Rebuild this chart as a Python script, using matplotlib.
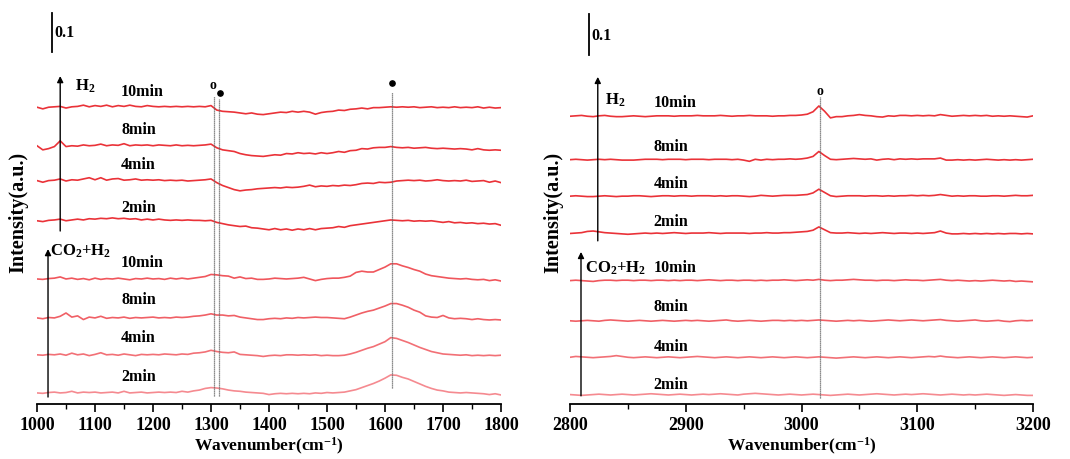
import numpy as np
import matplotlib
matplotlib.use("Agg")
from matplotlib import pyplot as plt

plt.rcParams['font.family'] = ['Liberation Serif', 'DejaVu Serif']
plt.rcParams['font.weight'] = 'bold'
plt.rcParams['mathtext.fontset'] = 'custom'
plt.rcParams['mathtext.rm'] = 'Liberation Serif:bold'
plt.rcParams['mathtext.bf'] = 'Liberation Serif:bold'
plt.rcParams['mathtext.it'] = 'Liberation Serif:bold'
plt.rcParams['mathtext.default'] = 'rm'

# ---- data: difference spectra, values in mA (1e-3 absorbance) ----
wn_low = np.arange(1000, 1801, 10)
wn_high = np.arange(2800, 3201, 5)
times = ['10min', '8min', '4min', '2min']

# 1000-1800 cm-1, H2 treatment
h2_low = {
    '10min': [0, -4, 0, 1, 2, -2, 1, 2, 5, 1,
              4, 2, 5, 1, 4, 2, 5, 2, 1, 4,
              2, 1, 2, 1, 2, 1, 2, 1, 2, 1,
              4, -7, -10, -11, -12, -14, -16, -14, -17, -18,
              -16, -14, -12, -13, -10, -12, -10, -12, -17, -13,
              -11, -10, -7, -8, -5, -4, -2, -4, -1, -1,
              0, 1, 0, 1, 0, 1, -1, 0, 1, -1,
              0, -1, 1, -1, 0, -1, 1, -2, 0, -2,
              -1],
    '8min': [0, -10, -7, -2, 12, -2, 0, -1, 2, 0,
             1, 4, 0, 2, 1, 5, 0, 2, 1, 2,
             0, 2, 1, 0, 2, 0, 1, 0, 1, 2,
             4, -5, -10, -12, -14, -19, -22, -24, -25, -26,
             -24, -22, -23, -19, -20, -17, -19, -18, -20, -17,
             -19, -17, -14, -16, -12, -11, -7, -8, -5, -4,
             -4, -2, -4, -5, -4, -6, -5, -4, -6, -7,
             -6, -7, -8, -7, -8, -10, -7, -10, -11, -10,
             -11],
    '4min': [0, -4, 0, 1, 4, -1, 2, 1, 4, 7,
             2, 7, 1, 4, 5, 1, 2, 4, 1, 2,
             1, 2, 0, 1, 0, 1, -1, 0, 1, 2,
             4, -5, -12, -17, -22, -25, -23, -22, -20, -19,
             -18, -17, -18, -16, -17, -16, -14, -11, -15, -13,
             -14, -12, -13, -11, -12, -10, -7, -6, -7, -4,
             -5, -4, -1, 0, 1, 0, 1, -1, 0, 2,
             0, -1, 0, -1, 1, -2, -1, 0, -4, -1,
             -5],
    '2min': [0, -2, 1, 2, 4, 0, 2, 4, 2, 5,
             4, 6, 5, 7, 5, 6, 4, 5, 2, 4,
             2, 4, 2, 1, 2, 1, 2, 1, 1, 0,
             1, -4, -7, -10, -12, -14, -13, -17, -18, -20,
             -22, -19, -22, -20, -23, -20, -22, -19, -22, -19,
             -18, -17, -14, -16, -12, -10, -8, -6, -4, -2,
             0, 2, 1, 0, 1, -1, 0, -1, 0, -2,
             -4, -2, -5, -4, -6, -5, -7, -6, -8, -7,
             -11],
}

# 1000-1800 cm-1, CO2+H2 treatment
co2_low = {
    '10min': [0, -1, 1, 2, 5, 0, 2, -1, 1, -2,
              2, -1, 1, 0, 2, 0, -2, 1, 0, 2,
              0, 1, -1, 2, 0, 2, 0, 2, 4, 6,
              11, 10, 8, 7, 2, 5, 1, 2, -1, -1,
              0, 2, 1, 0, 1, 2, 4, 0, -4, -1,
              1, 2, 2, 4, 7, 16, 19, 17, 17, 23,
              29, 37, 37, 32, 28, 23, 19, 12, 8, 6,
              4, 2, 1, 0, 1, -1, -2, -1, -4, -2,
              -5],
    '8min': [0, -2, 1, 0, 4, 12, 2, 5, -4, 2,
             0, 4, -1, 1, 0, 2, -1, 1, 0, 1,
             2, 0, 1, 0, 2, 1, 2, 4, 5, 7,
             10, 7, 7, 5, 6, 2, 0, -2, -4, -4,
             -2, -1, -2, 0, -1, 1, 0, 1, 2, 1,
             1, 0, -1, -2, 2, 7, 12, 16, 19, 24,
             29, 35, 35, 31, 26, 19, 14, 5, 2, 1,
             6, 0, -2, -1, -2, -4, -2, -4, -5, -4,
             -5],
    '4min': [0, -1, 1, 0, 2, -1, 4, 0, 2, -2,
             1, 5, 0, 1, -1, 2, 0, -2, 1, 0,
             1, 0, 2, 1, 0, 2, 1, 4, 5, 7,
             11, 8, 6, 5, 7, 1, 0, -1, -2, -4,
             -2, -1, -2, 0, 0, -1, 0, -1, 0, -2,
             -1, -2, -2, -1, 2, 6, 11, 16, 20, 26,
             32, 42, 40, 35, 30, 24, 18, 13, 8, 5,
             2, 1, 0, -1, 0, -2, -1, -2, -1, -2,
             -1],
    '2min': [0, -1, 1, 2, 0, 1, 4, 0, 2, 1,
             2, 0, 1, 2, 0, 4, 0, 1, 2, 0,
             1, 2, 1, 2, 1, 4, 2, 5, 7, 11,
             13, 12, 10, 7, 5, 4, 2, 1, 0, -1,
             -4, -2, -1, -2, -1, -2, -1, -2, 0, -1,
             1, 0, 1, 2, 5, 8, 13, 18, 23, 29,
             36, 44, 43, 38, 34, 28, 22, 16, 11, 7,
             5, 2, 1, 0, 1, 0, -1, -2, -4, -2,
             -5],
}

# 2800-3200 cm-1, H2 treatment
h2_high = {
    '10min': [0, 1, 2, 0, -1, 1, 2, 0, -1, -1,
              0, 1, 0, -1, 0, 1, 1, 1, 0, 1,
              1, 1, 2, 1, 1, 1, 2, 1, 0, 1,
              1, 2, 1, 1, 1, 0, 1, 1, 2, 2,
              3, 5, 11, 25, 12, -4, -1, -1, 1, 2,
              4, 2, 1, -1, -2, 1, 0, 2, 2, 1,
              2, 1, 2, 1, 4, 2, 0, 1, 2, 1,
              2, 1, 2, 0, 1, 0, 1, 0, -1, -2,
              1],
    '8min': [0, 1, 0, -1, 0, 1, 0, 1, 0, -1,
             -1, -1, 0, 1, 1, 1, 0, 1, 1, 1,
             0, 1, 1, 1, 0, 1, 1, 1, 0, 1,
             -1, -4, 1, -1, 1, 0, 1, 1, 2, 1,
             2, 4, 8, 20, 10, 1, 0, 1, 2, 3,
             2, 1, 2, -1, 1, 2, 0, 2, 1, 2,
             1, 2, 2, 2, 4, -1, -1, 0, -1, 0,
             -1, 0, 1, 0, -1, 0, -1, 0, -1, 0,
             1],
    '4min': [0, 1, 0, -1, -1, 0, 1, 0, -1, 0,
             0, 1, 1, 0, -1, 0, 1, 1, 0, 1,
             1, 0, 1, 1, 1, 0, 1, 0, 1, 1,
             0, -1, 0, 2, 1, 0, 1, 2, 2, 2,
             3, 4, 8, 17, 9, 1, -1, 0, 1, 1,
             1, 0, 1, 1, 0, 1, 0, 1, 1, 2,
             1, 2, 1, 2, 4, 2, 0, 1, 0, 1,
             1, 0, 0, 1, 1, 0, 1, 2, 1, 1,
             2],
    '2min': [0, 1, 2, 5, 6, 4, 2, 1, 0, -1,
             -2, -1, 0, 1, 0, 1, 0, 1, 2, 1,
             0, 1, 1, 1, 2, 1, 0, 1, 1, 1,
             1, 0, 1, 1, 2, 1, 1, 2, 2, 3,
             4, 5, 8, 16, 9, 2, 1, 1, 2, 1,
             0, 1, 0, 1, 2, 1, 0, 1, 1, 0,
             1, 0, 1, 2, 6, 1, -1, -1, 0, -1,
             0, -1, 0, -1, 0, -1, 0, 0, -1, 0,
             -1],
}

# 2800-3200 cm-1, CO2+H2 treatment
co2_high = {
    '10min': [0, 1, 0, -1, -2, 0, 1, 1, 0, 1,
              1, 0, 1, 1, 0, 1, 1, 0, 1, 0,
              1, 1, 0, 1, 2, 1, 0, 1, 1, 0,
              1, 1, 0, 1, 0, 1, 1, 2, 1, 0,
              1, 2, 1, 3, 1, 0, 1, 1, 2, 3,
              2, 1, 1, 0, 1, 1, 0, 1, 2, 1,
              1, 0, 1, 2, 3, 1, 0, 1, 0, -1,
              0, -1, 0, 1, 0, -1, 0, -2, -1, -2,
              -3],
    '8min': [0, -1, 0, 1, 0, -1, 1, 2, 1, 0,
             -1, 0, 1, 0, -1, 0, 1, 0, -1, 0,
             1, 0, 1, 0, -1, 0, 1, 2, 0, -1,
             0, 1, 0, -1, 0, 1, 1, 0, 1, 0,
             1, 0, 1, 2, 1, 0, -1, 0, 1, 0,
             1, 0, -1, 0, 1, 2, 1, 0, 1, 2,
             1, 0, 1, 2, 3, 1, 0, -1, 0, 1,
             2, 0, -1, 0, 1, -1, -2, 0, 1, 0,
             1],
    '4min': [0, 2, 1, 0, -1, 0, 1, 2, 4, 2,
             0, -1, 0, 1, 0, -1, 0, 1, 0, -1,
             0, 1, 2, 1, 0, -1, 0, 1, 0, -1,
             0, 1, 0, -1, 0, 1, 0, -1, 0, 1,
             0, -1, 0, 1, 0, -1, -2, -1, 0, 1,
             0, -1, 0, 1, 0, -1, 0, 1, 0, -1,
             0, 1, 2, 1, 3, 1, 0, -1, 0, 1,
             0, -1, 0, 1, 0, -1, 0, 1, 0, -1,
             0],
    '2min': [0, -1, -2, -1, 0, 1, 0, -1, 0, 1,
             0, -1, 0, 1, 2, 1, 0, -1, 0, 1,
             0, -1, 0, 1, 0, 1, 2, 1, 0, -1,
             1, 2, 3, 2, 1, 0, -1, 0, 1, 0,
             -1, 0, 1, 0, -1, -2, -1, 0, 1, 0,
             -1, 0, 1, 2, 1, 0, -1, 0, 1, 0,
             1, 2, 1, 0, -1, 0, 1, 0, -1, 0,
             -1, 0, 1, 0, -1, -2, -1, 0, -1, -2,
             -2],
}

bands_low = [1305, 1313, 1612]
bands_high = [3016]

# ---- layout (offsets of the stacked traces, in absorbance) ----
offs_low_h2 = [0.724, 0.630, 0.545, 0.447]
offs_low_co2 = [0.305, 0.210, 0.120, 0.027]
offs_high_h2 = [0.702, 0.596, 0.507, 0.416]
offs_high_co2 = [0.301, 0.203, 0.114, 0.023]

lab_low_h2 = [0.763, 0.671, 0.585, 0.480]
lab_low_co2 = [0.346, 0.256, 0.163, 0.068]
lab_high_h2 = [0.737, 0.629, 0.539, 0.447]
lab_high_co2 = [0.334, 0.239, 0.141, 0.049]

h2_color = '#ea3238'
co2_colors = ['#f0565c', '#f06066', '#f27076', '#f58a90']


def setup_axis(ax, lo, hi):
    ax.set_xlim(lo, hi)
    ax.set_ylim(0, 0.988)
    for s in ['left', 'top', 'right']:
        ax.spines[s].set_visible(False)
    ax.spines['bottom'].set_linewidth(1.3)
    ax.set_yticks([])
    ax.xaxis.set_major_locator(plt.MultipleLocator(100))
    ax.xaxis.set_minor_locator(plt.MultipleLocator(50))
    ax.tick_params(axis='x', which='major', direction='out', length=6, width=1.2, labelsize=13, pad=3)
    ax.tick_params(axis='x', which='minor', direction='out', length=3.5, width=1.0)
    for lab in ax.get_xticklabels():
        lab.set_fontweight('bold')
    ax.set_xlabel('Wavenumber(cm$^{-1}$)', fontsize=12.5, fontweight='bold', labelpad=1)


def arrow(ax, x, y0, y1):
    ax.annotate('', xy=(x, y1), xytext=(x, y0),
                arrowprops=dict(arrowstyle='-|>', color='black', lw=1.0, mutation_scale=9,
                                shrinkA=0, shrinkB=0))


def scale_bar(ax, x, y0, y1):
    ax.plot([x, x], [y0, y1], color='black', lw=1.3, clip_on=False)
    ax.text(x + (ax.get_xlim()[1] - ax.get_xlim()[0]) * 0.007, (y0 + y1) / 2, '0.1',
            fontsize=11.5, fontweight='bold', va='center', ha='left')


fig = plt.figure(figsize=(10.7, 4.6), dpi=100)
ax1 = fig.add_axes([37 / 1070, 55 / 460, 464 / 1070, 405 / 460])
ax2 = fig.add_axes([570 / 1070, 55 / 460, 463 / 1070, 405 / 460])
for ax in (ax1, ax2):
    ax.patch.set_alpha(0)

# ---- left panel ----
setup_axis(ax1, 1000, 1800)
for i, t in enumerate(times):
    ax1.plot(wn_low, np.array(h2_low[t]) / 1000 + offs_low_h2[i], color=h2_color, lw=1.2)
    ax1.plot(wn_low, np.array(co2_low[t]) / 1000 + offs_low_co2[i], color=co2_colors[i], lw=1.2)
    ax1.text(1145, lab_low_h2[i], t, fontsize=11.5, fontweight='bold', va='center')
    ax1.text(1145, lab_low_co2[i], t, fontsize=11.5, fontweight='bold', va='center')

ax1.plot([bands_low[0]] * 2, [0.02, 0.751], color='#666666', lw=0.9, ls=(0, (1, 0.6)))
ax1.plot([bands_low[1]] * 2, [0.02, 0.745], color='#666666', lw=0.9, ls=(0, (1, 0.6)))
ax1.plot([bands_low[2]] * 2, [0.039, 0.761], color='#666666', lw=0.9, ls=(0, (1, 0.6)))
ax1.text(bands_low[0] - 2, 0.780, 'o', fontsize=10, ha='center', va='center')
ax1.plot([bands_low[1] + 3], [0.758], 'o', color='black', ms=3.8)
ax1.plot([bands_low[2]], [0.782], 'o', color='black', ms=3.8)

arrow(ax1, 1040, 0.422, 0.800)
arrow(ax1, 1019, 0.017, 0.378)
ax1.text(1066, 0.778, 'H$_2$', fontsize=12, fontweight='bold', va='center')
ax1.text(1022, 0.374, 'CO$_2$+H$_2$', fontsize=12, fontweight='bold', va='center')
scale_bar(ax1, 1025, 0.858, 0.955)

# ---- right panel ----
setup_axis(ax2, 2800, 3200)
for i, t in enumerate(times):
    ax2.plot(wn_high, np.array(h2_high[t]) / 1000 + offs_high_h2[i], color=h2_color, lw=1.2)
    ax2.plot(wn_high, np.array(co2_high[t]) / 1000 + offs_high_co2[i], color=co2_colors[i], lw=1.2)
    ax2.text(2872, lab_high_h2[i], t, fontsize=11.5, fontweight='bold', va='center')
    ax2.text(2872, lab_high_co2[i], t, fontsize=11.5, fontweight='bold', va='center')

ax2.plot([bands_high[0]] * 2, [0.015, 0.749], color='#666666', lw=0.9, ls=(0, (1, 0.6)))
ax2.text(bands_high[0], 0.765, 'o', fontsize=10, ha='center', va='center')

arrow(ax2, 2824, 0.398, 0.798)
arrow(ax2, 2809.5, 0.020, 0.371)
ax2.text(2830, 0.744, 'H$_2$', fontsize=12, fontweight='bold', va='center')
ax2.text(2813, 0.334, 'CO$_2$+H$_2$', fontsize=12, fontweight='bold', va='center')
scale_bar(ax2, 2816, 0.851, 0.951)

fig.text(18 / 1070, 1 - 212 / 460, 'Intensity(a.u.)', rotation=90, fontsize=14.5,
         fontweight='bold', ha='center', va='center')
fig.text(553 / 1070, 1 - 212 / 460, 'Intensity(a.u.)', rotation=90, fontsize=14.5,
         fontweight='bold', ha='center', va='center')

fig.savefig('out.png', dpi=100)
